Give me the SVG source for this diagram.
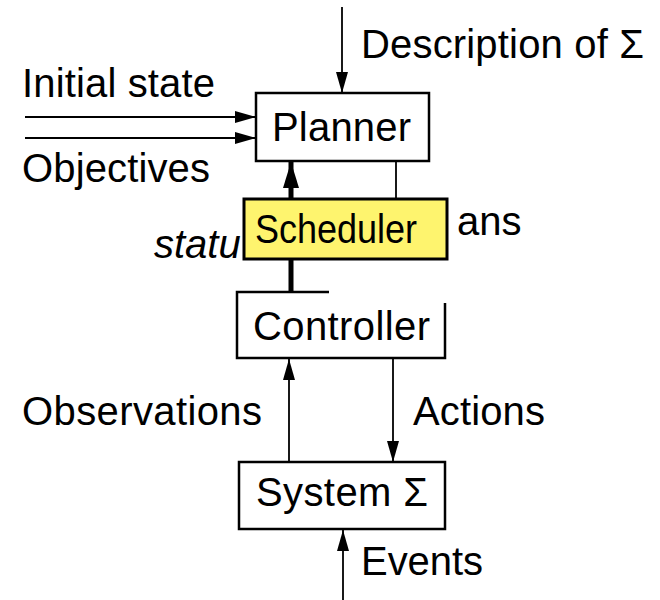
<svg xmlns="http://www.w3.org/2000/svg" width="660" height="600" viewBox="0 0 660 600">
<defs>
<style>
text{font-family:"Liberation Sans",Arial,Helvetica,sans-serif;font-size:40px;fill:#000}
.box{fill:#fff;stroke:#000;stroke-width:2.5}
.ln{fill:none;stroke:#000;stroke-width:1.8}
.thick{fill:none;stroke:#000;stroke-width:5}
</style>
<marker id="ah" markerUnits="userSpaceOnUse" markerWidth="21" markerHeight="12" refX="21" refY="6" orient="auto">
<path d="M0,0 L21,6 L0,12 z" fill="#000"/>
</marker>
<marker id="ahb" markerUnits="userSpaceOnUse" markerWidth="26" markerHeight="16" refX="26" refY="8" orient="auto">
<path d="M0,0 L26,8 L0,16 z" fill="#000"/>
</marker>
</defs>
<rect width="660" height="600" fill="#fff"/>
<g id="connectors">
<line class="ln" x1="342" y1="7" x2="342" y2="93" marker-end="url(#ah)"/>
<line class="ln" x1="25" y1="117" x2="256" y2="117" marker-end="url(#ah)"/>
<line class="ln" x1="25" y1="138" x2="256" y2="138" marker-end="url(#ah)"/>
<line class="thick" x1="291" y1="292" x2="291" y2="162" marker-end="url(#ahb)"/>
<line class="ln" x1="396" y1="161" x2="396" y2="200"/>
<line class="ln" x1="289" y1="462" x2="289" y2="359" marker-end="url(#ah)"/>
<line class="ln" x1="393" y1="359" x2="393" y2="462" marker-end="url(#ah)"/>
<line class="ln" x1="343" y1="600" x2="343" y2="530" marker-end="url(#ah)"/>
</g>
<g id="labels">
<text x="361" y="58" textLength="283">Description of Σ</text>
<text x="22" y="97" textLength="193">Initial state</text>
<text x="22" y="182" textLength="188">Objectives</text>
<text x="154" y="258" font-style="italic">statu</text>
<text x="457" y="235">ans</text>
<text x="22" y="425" textLength="240">Observations</text>
<text x="413" y="425" textLength="132">Actions</text>
<text x="361" y="575" textLength="122">Events</text>
</g>
<g id="planner">
<rect class="box" x="256" y="93" width="173" height="68"/>
<text x="272" y="141" textLength="139">Planner</text>
</g>
<g id="controller">
<polyline class="ln" style="stroke-width:2.5" points="329,292 237,292 237,358 445,358 445,303"/>
<text x="253" y="340" textLength="177">Controller</text>
</g>
<g id="system">
<rect class="box" x="239" y="462" width="206" height="67"/>
<text x="256" y="506" textLength="172">System Σ</text>
</g>
<g id="scheduler">
<rect x="244" y="199" width="203" height="60" fill="#fef46e" stroke="#000" stroke-width="3"/>
<text transform="translate(255,243) scale(0.9,1)" x="0" y="0" font-size="36">Scheduler</text>
</g>
</svg>
